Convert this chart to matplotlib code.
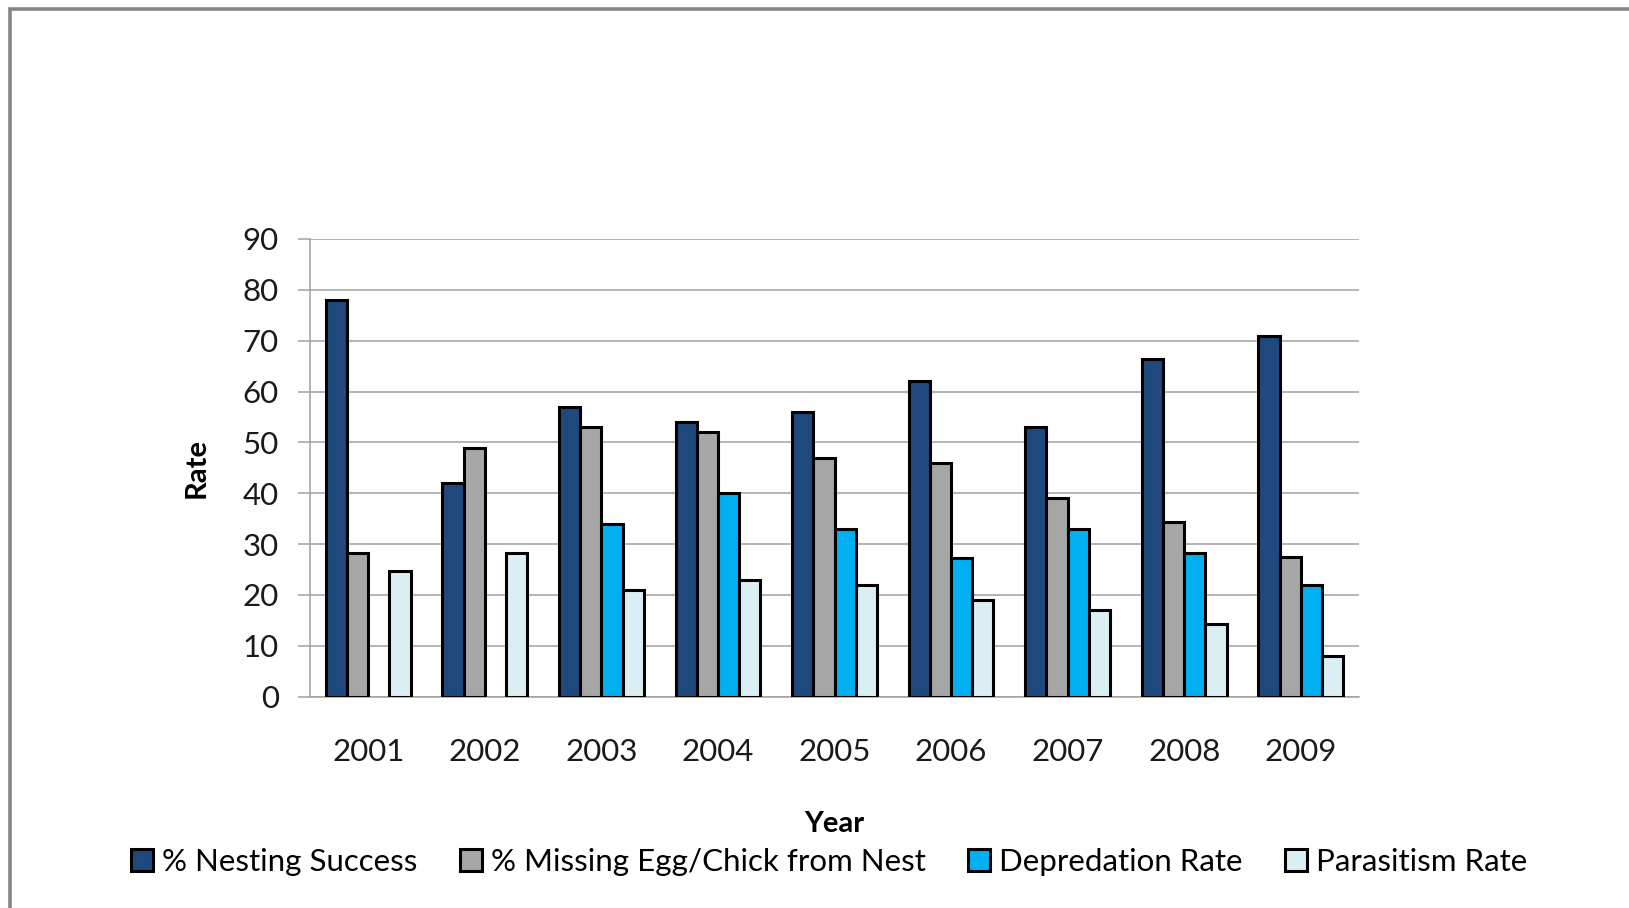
import numpy as np
import matplotlib.pyplot as plt
from matplotlib.patches import Rectangle

plt.rcParams["font.family"] = ["Lato", "DejaVu Sans"]

YEARS = ["2001", "2002", "2003", "2004", "2005", "2006", "2007", "2008", "2009"]
NESTING_SUCCESS = [78, 42, 57, 54, 56, 62, 53, 66.5, 71]
MISSING_EGG_CHICK = [28.3, 49, 53, 52, 47, 46, 39, 34.3, 27.4]
DEPREDATION = [np.nan, np.nan, 34, 40, 33, 27.3, 33, 28.3, 22]
PARASITISM = [24.8, 28.3, 21, 23, 22, 19, 17, 14.2, 8]

SERIES_LABELS = [
    "% Nesting Success",
    "% Missing Egg/Chick from Nest",
    "Depredation Rate",
    "Parasitism Rate",
]
SERIES_COLORS = ["#1F497D", "#A6A6A6", "#00B0F0", "#DBEEF3"]
Y_TICKS = list(range(0, 100, 10))


def plot_nest_rates():
    fig = plt.figure(figsize=(16.29, 9.08), dpi=100)
    ax = fig.add_axes([0.1903, 0.2327, 0.6440, 0.5041])

    series = [NESTING_SUCCESS, MISSING_EGG_CHICK, DEPREDATION, PARASITISM]
    x = np.arange(len(YEARS))
    # Excel-style clustered bars: 4 bars per slot plus a 150% gap
    bar_w = 1.0 / (len(series) + 1.5)
    offsets = (np.arange(len(series)) - (len(series) - 1) / 2) * bar_w

    handles = []
    for vals, off, color, label in zip(series, offsets, SERIES_COLORS, SERIES_LABELS):
        h = ax.bar(x + off, vals, width=bar_w, color=color, edgecolor="black",
                   linewidth=2.2, label=label, zorder=3)
        handles.append(h)

    ax.set_xlim(-0.5, len(YEARS) - 0.5)
    ax.set_ylim(0, 90)
    ax.set_yticks(Y_TICKS)
    ax.set_xticks(x)
    ax.set_xticklabels(YEARS)
    ax.tick_params(axis="y", direction="out", length=8.5, width=1.1,
                   color="#A0A0A0", labelsize=22.5, labelcolor="#1a1a1a", pad=14)
    ax.tick_params(axis="x", length=0, labelsize=22.5, labelcolor="#1a1a1a", pad=30)
    ax.yaxis.grid(True, color="#A0A0A0", linewidth=1.1, zorder=0)
    ax.set_axisbelow(True)
    for side in ("top", "right"):
        ax.spines[side].set_visible(False)
    for side in ("left", "bottom"):
        ax.spines[side].set_color("#A0A0A0")
        ax.spines[side].set_linewidth(1.1)

    ax.set_xlabel("Year", fontsize=21, fontweight="bold", labelpad=32)
    ax.set_ylabel("Rate", fontsize=21, fontweight="bold", labelpad=24)

    fig.legend(handles=handles, loc="center", bbox_to_anchor=(0.509, 1 - 862 / 908),
               ncol=4, frameon=False, fontsize=22.5, handlelength=0.7,
               handleheight=0.7, handletextpad=0.3, columnspacing=1.35)

    # chart-area frame
    fig.patches.append(Rectangle((10 / 1629, -0.1), 1.2, 1 - 8.7 / 908 + 0.1,
                                 transform=fig.transFigure, fill=False,
                                 edgecolor="#858585", linewidth=2.6))
    return fig


if __name__ == "__main__":
    fig = plot_nest_rates()
    fig.savefig("out.png", dpi=100)
    plt.close(fig)
